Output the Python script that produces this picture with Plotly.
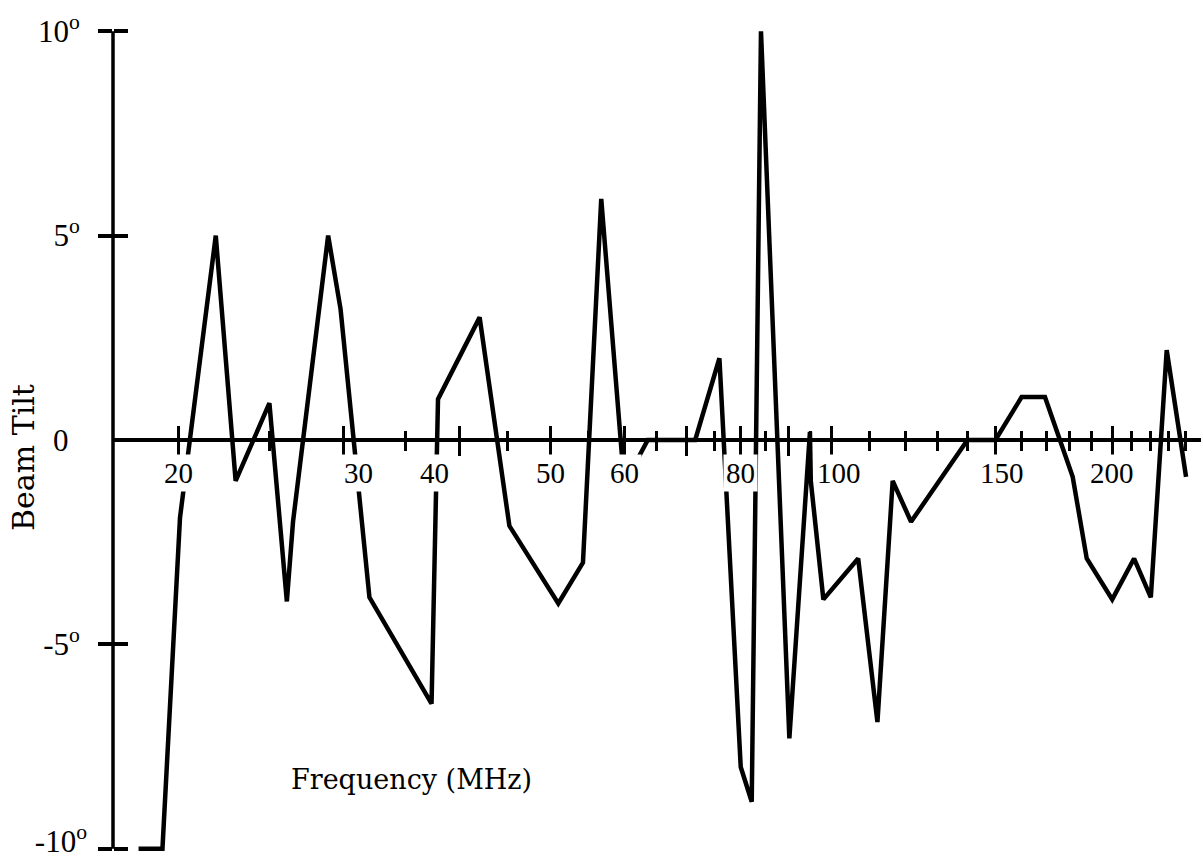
import numpy as np
import plotly.graph_objects as go

# ---- data ----
freq_mhz = [18.1, 19.2, 20.05, 21.9, 23.0, 25.0, 26.1, 26.5, 28.9, 29.8,
            32.0, 37.3, 37.9, 42.0, 45.2, 51.0, 54.2, 56.7, 59.7, 61.9,
            63.6, 71.5, 75.9, 80.0, 82.2, 84.1, 90.2, 94.9, 95.1, 98.1,
            106.9, 112.1, 116.4, 121.8, 140.0, 150.0, 160.0, 169.5, 181.5, 187.9,
            200.1, 211.2, 220.1, 228.9, 240.1]
tilt_deg = [-10.0, -10.0, -1.9, 5.0, -1.0, 0.9, -3.95, -2.0, 5.0, 3.2,
            -3.85, -6.45, 1.0, 3.0, -2.1, -4.0, -3.0, 5.9, -0.45, -0.5,
            0.0, 0.0, 2.0, -8.0, -8.85, 10.0, -7.3, 0.2, -1.0, -3.9,
            -2.9, -6.9, -1.0, -2.0, 0.0, 0.0, 1.05, 1.05, -0.9, -2.9,
            -3.9, -2.9, -3.85, 2.2, -0.9]

major_ticks = [20, 30, 40, 50, 60, 70, 80, 90, 100, 150, 200]
minor_ticks = [25, 35, 45, 55, 65, 75, 85, 95, 110, 120, 130, 140,
               160, 170, 180, 190, 210, 220, 230, 240]
x_label_vals = [20, 30, 40, 50, 60, 80, 100, 150, 200]
x_label_nudge = {30: 15, 40: -25, 100: 8, 150: 7}

y_tick_vals = [-10, -5, 5, 10]
y_tick_text = ["", "-5<sup>o</sup>", "5<sup>o</sup>", "10<sup>o</sup>"]
y_bottom_text = ["-10<sup>o</sup>", "", "", ""]

x_title = "Frequency (MHz)"
y_title = "Beam Tilt"

# ---- styling ----
INK = "black"
XDIGIT_FONT = dict(family="Liberation Serif", size=29, color=INK)
YDIGIT_FONT = dict(family="Liberation Serif", size=31, color=INK)
TEXT_FONT = dict(family="DejaVu Serif", size=27, color=INK)
XRANGE = [1.2303, 2.3964]
YRANGE = [-10.3, 10.3]

fig = go.Figure()
fig.add_trace(go.Scatter(x=freq_mhz, y=tilt_deg, mode="lines",
                         line=dict(color=INK, width=4.5),
                         hoverinfo="skip", showlegend=False))
# empty trace to create overlay axes for the upward/inward tick halves
fig.add_trace(go.Scatter(x=[], y=[], xaxis="x2", yaxis="y2",
                         showlegend=False, hoverinfo="skip"))

common_x = dict(type="log", range=XRANGE, showgrid=False, zeroline=False,
                tickmode="array", tickvals=major_ticks, showticklabels=False,
                ticklen=14, tickwidth=3, tickcolor=INK, automargin=False,
                anchor="free", position=0.5)
fig.update_layout(
    xaxis=dict(**common_x, ticks="outside", showline=True, linewidth=4,
               linecolor=INK,
               minor=dict(tickmode="array", tickvals=minor_ticks,
                          ticks="outside", ticklen=9, tickwidth=3,
                          tickcolor=INK, showgrid=False)),
    xaxis2=dict(**common_x, ticks="inside", overlaying="x", showline=False,
                minor=dict(tickmode="array", tickvals=minor_ticks,
                           ticks="inside", ticklen=9, tickwidth=3,
                           tickcolor=INK, showgrid=False)),
    yaxis=dict(range=YRANGE, showgrid=False, zeroline=False, showline=False,
               tickmode="array", tickvals=y_tick_vals, ticktext=y_tick_text,
               ticks="outside", ticklen=14, tickwidth=4, tickcolor=INK,
               tickfont=YDIGIT_FONT, ticklabelstandoff=12,
               ticklabeloverflow="allow", automargin=False),
    yaxis2=dict(range=YRANGE, showgrid=False, zeroline=False, showline=False,
                overlaying="y", anchor="free", position=0, side="left",
                tickmode="array", tickvals=y_tick_vals, ticktext=y_bottom_text,
                showticklabels=True, tickfont=YDIGIT_FONT,
                ticklabelstandoff=26, ticklabelshift=-8,
                ticklabeloverflow="allow",
                ticks="inside", ticklen=14, tickwidth=4, tickcolor=INK,
                automargin=False),
    width=1203, height=862, autosize=False,
    margin=dict(l=113, r=2, t=19, b=1),
    plot_bgcolor="white", paper_bgcolor="white",
    showlegend=False,
)

# vertical axis line from -10 to +10
fig.add_shape(type="line", xref="paper", x0=0, x1=0, yref="y",
              y0=y_tick_vals[0], y1=y_tick_vals[-1],
              line=dict(color=INK, width=3.5))

# x tick labels (white background knocks out the curve, as in the print)
for v in x_label_vals:
    fig.add_annotation(x=np.log10(v), xref="x", y=0, yref="y",
                       xanchor="center", yanchor="middle",
                       yshift=-33, xshift=x_label_nudge.get(v, 0),
                       text=str(v), showarrow=False, font=XDIGIT_FONT,
                       bgcolor="white", borderpad=2)

# "0" label on the vertical axis
fig.add_annotation(x=0, xref="paper", y=0, yref="y", xshift=-52,
                   xanchor="center", yanchor="middle",
                   text="0", showarrow=False, font=YDIGIT_FONT)

fig.add_annotation(x=(411 - 113) / 1088, y=(861 - 779) / 842,
                   xref="paper", yref="paper", xanchor="center",
                   yanchor="middle", text=x_title,
                   showarrow=False, font=TEXT_FONT)
fig.add_annotation(x=(23 - 113) / 1088, y=(861 - 458) / 842,
                   xref="paper", yref="paper", xanchor="center",
                   yanchor="middle", text=y_title, textangle=-90,
                   showarrow=False, font=dict(TEXT_FONT, size=30))

fig.write_html("out.html")
